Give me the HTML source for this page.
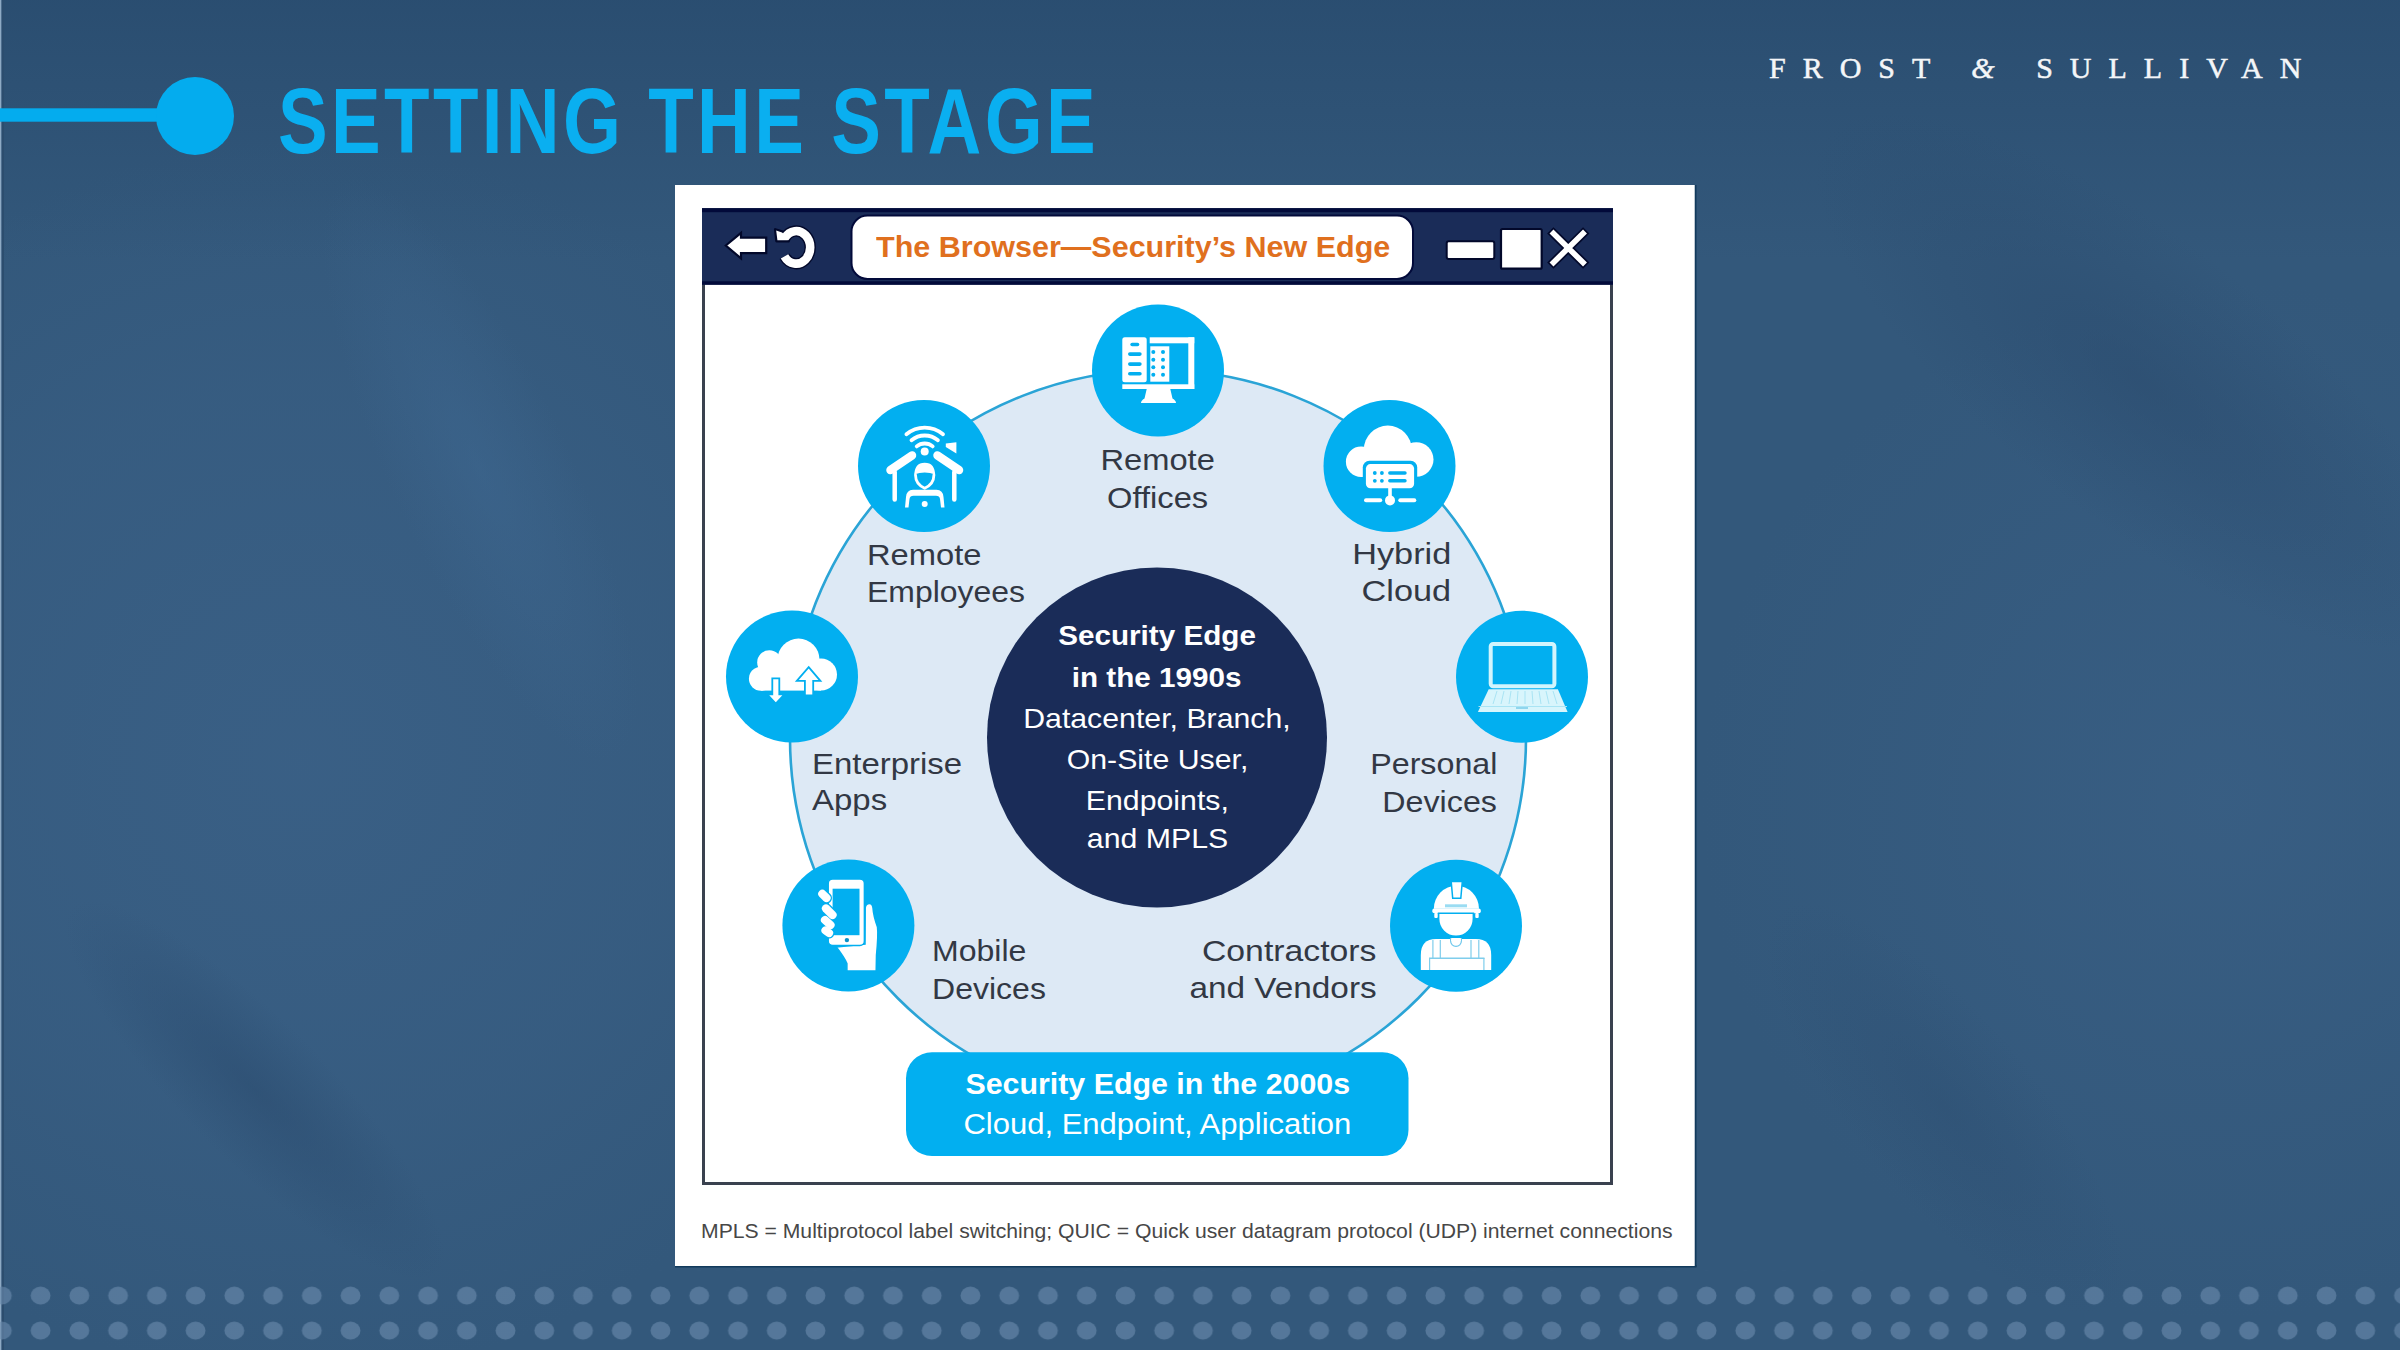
<!DOCTYPE html>
<html><head><meta charset="utf-8">
<style>
*{margin:0;padding:0;box-sizing:border-box}
html,body{width:2400px;height:1350px;overflow:hidden}
body{position:relative;background:#2f5780;font-family:"Liberation Sans",sans-serif}
.abs{position:absolute}
.t{position:absolute;white-space:nowrap;line-height:1;text-align:left}
svg{position:absolute;left:0;top:0}
</style></head><body>
<svg width="2400" height="1350" viewBox="0 0 2400 1350">
<defs>
<linearGradient id="gtop" x1="0" y1="0" x2="0" y2="1"><stop offset="0" stop-color="#284b6e" stop-opacity="0.8"/><stop offset="1" stop-color="#284b6e" stop-opacity="0"/></linearGradient>
<radialGradient id="gl" cx="300" cy="760" r="620" gradientUnits="userSpaceOnUse"><stop offset="0" stop-color="#3a6086" stop-opacity="0.9"/><stop offset="0.6" stop-color="#3a6086" stop-opacity="0.5"/><stop offset="1" stop-color="#3a6086" stop-opacity="0"/></radialGradient>
<radialGradient id="gr" cx="2220" cy="800" r="520" gradientUnits="userSpaceOnUse"><stop offset="0" stop-color="#3a6086" stop-opacity="0.7"/><stop offset="1" stop-color="#3a6086" stop-opacity="0"/></radialGradient>
<radialGradient id="glt"><stop offset="0" stop-color="#3e6891" stop-opacity="0.5"/><stop offset="1" stop-color="#3e6891" stop-opacity="0"/></radialGradient>
<radialGradient id="gdk"><stop offset="0" stop-color="#29496c" stop-opacity="0.5"/><stop offset="1" stop-color="#29496c" stop-opacity="0"/></radialGradient>
<pattern id="dots" x="-17.5" y="1278.1" width="38.744" height="35" patternUnits="userSpaceOnUse"><ellipse cx="19.372" cy="17.5" rx="9.9" ry="9" fill="#6a8bad" fill-opacity="0.62"/></pattern>
</defs>
<rect width="2400" height="1350" fill="#33587b"/>
<rect width="2400" height="1350" fill="url(#gl)"/>
<rect width="2400" height="1350" fill="url(#gr)"/>
<rect width="2400" height="260" fill="url(#gtop)"/>
<ellipse cx="2140" cy="380" rx="400" ry="140" transform="rotate(38 2140 380)" fill="url(#gdk)"/>
<ellipse cx="255" cy="1090" rx="260" ry="70" transform="rotate(45 255 1090)" fill="url(#gdk)"/>
<ellipse cx="1945" cy="1108" rx="260" ry="90" transform="rotate(50 1945 1108)" fill="url(#gdk)" fill-opacity="0.6"/>
<ellipse cx="480" cy="470" rx="320" ry="90" transform="rotate(65 480 470)" fill="url(#glt)"/>
<rect x="0" y="0" width="1.6" height="1350" fill="#8eaac4"/>
<rect x="1.6" y="0" width="2.4" height="1350" fill="#2c4d6e"/>
<rect x="0" y="1270" width="2400" height="80" fill="url(#dots)"/>

<!-- title bullet -->
<rect x="0" y="108.3" width="196" height="13.4" fill="#04acee"/>
<circle cx="195" cy="116" r="39" fill="#04acee"/>

<!-- white panel -->
<rect x="675" y="1265" width="1021.5" height="2.5" fill="#123a5c"/>
<rect x="1694.5" y="185" width="2" height="1082" fill="#123a5c"/>
<rect x="675" y="185" width="1019.7" height="1081" fill="#ffffff"/>

<!-- browser window -->
<rect x="703.5" y="280" width="908" height="903.5" fill="#ffffff" stroke="#3a414f" stroke-width="3"/>
<rect x="702" y="208.2" width="911" height="76.5" fill="#1a2c58"/>
<rect x="702" y="208.2" width="911" height="4" fill="#020a3a"/>
<rect x="702" y="281.3" width="911" height="3.4" fill="#020a3a"/>
<rect x="851.5" y="215.5" width="561.5" height="63.5" rx="16" fill="#ffffff" stroke="#020a3a" stroke-width="2"/>

<!-- back arrow -->
<path d="M725.8,245.5 L741,232.8 L741,237.6 L766.2,237.6 L766.2,253.2 L741,253.2 L741,258.4 Z" fill="#ffffff" stroke="#02082a" stroke-width="2.2" stroke-linejoin="miter"/>
<!-- refresh -->
<g>
<path d="M784.7,238.05 A14,16.3 0 1 1 784.5,256.3" fill="none" stroke="#02082a" stroke-width="11.4"/>
<polygon points="775.2,229.4 782,231.6 789.6,237.6 788.6,241.2 776.5,241.2" fill="#02082a" stroke="#02082a" stroke-width="2.6" stroke-linejoin="round"/>
<path d="M784.7,238.05 A14,16.3 0 1 1 784.5,256.3" fill="none" stroke="#ffffff" stroke-width="8.6"/>
<polygon points="776.2,230.4 782,232.4 788.6,238 787.8,240.2 777.4,240.2" fill="#ffffff"/>
</g>
<!-- window controls -->
<rect x="1446.7" y="241.3" width="47.6" height="17.7" rx="2" fill="#ffffff" stroke="#02082a" stroke-width="2"/>
<rect x="1501" y="229" width="40.7" height="39.7" rx="1.5" fill="#ffffff" stroke="#02082a" stroke-width="2.2"/>
<g stroke-linecap="square">
<path d="M1553.5,233.5 L1583,262.5 M1583,233.5 L1553.5,262.5" stroke="#02082a" stroke-width="9"/>
<path d="M1553.5,233.5 L1583,262.5 M1583,233.5 L1553.5,262.5" stroke="#ffffff" stroke-width="5.6"/>
</g>

<!-- diagram -->
<circle cx="1158" cy="738" r="368" fill="#dde9f5" stroke="#2aa4d6" stroke-width="2.6"/>
<circle cx="1157" cy="737.5" r="170" fill="#1a2c58"/>
<g fill="#02aff0">
<circle cx="1158" cy="370.5" r="66"/>
<circle cx="924" cy="466" r="66"/>
<circle cx="1389.5" cy="466" r="66"/>
<circle cx="792" cy="676.5" r="66"/>
<circle cx="1522" cy="676.7" r="66"/>
<circle cx="848.4" cy="925.5" r="66"/>
<circle cx="1456" cy="925.7" r="66"/>
</g>
<rect x="906" y="1052.2" width="502.5" height="103.8" rx="26" fill="#02aff0"/>

<!-- ICON: remote offices -->
<g fill="#ffffff">
<rect x="1122.3" y="337.3" width="24.4" height="45" rx="2.5"/>
<rect x="1149.7" y="337.3" width="44.6" height="6"/>
<rect x="1188.3" y="337.3" width="6" height="51.7"/>
<rect x="1122.3" y="384.3" width="72" height="4.7"/>
<rect x="1150.3" y="346.3" width="19" height="35.4"/>
<path d="M1146.7,389 L1170.3,389 L1172.5,398.5 Q1176,400.5 1176,403 L1141,403 Q1141,400.5 1144.5,398.5 Z"/>
</g>
<g fill="#02aff0">
<rect x="1130.3" y="342.7" width="9" height="3.6" rx="1.8"/>
<rect x="1128" y="352.2" width="13.7" height="3.7" rx="1.8"/>
<rect x="1128" y="362.2" width="13.7" height="3.7" rx="1.8"/>
<rect x="1128" y="371.9" width="13.7" height="3.7" rx="1.8"/>
<circle cx="1153.3" cy="352" r="2"/><circle cx="1163" cy="352" r="2"/>
<circle cx="1153.3" cy="359.7" r="2"/><circle cx="1163" cy="359.7" r="2"/>
<circle cx="1153.3" cy="367.3" r="2"/><circle cx="1163" cy="367.3" r="2"/>
<circle cx="1153.3" cy="374.7" r="2"/><circle cx="1163" cy="374.7" r="2"/>
</g>

<!-- ICON: remote employees -->
<g fill="none" stroke="#ffffff" stroke-linecap="round">
<path d="M906.4,434.2 A28.5,28.5 0 0 1 943,434.2" stroke-width="3.8"/>
<path d="M911.5,440.3 A20.5,20.5 0 0 1 937.9,440.3" stroke-width="3.8"/>
<path d="M916.7,446.4 A12.5,12.5 0 0 1 932.7,446.4" stroke-width="3.8"/>
<path d="M890.5,470 L912,455.5 M937.5,455.5 L959,470" stroke-width="8.5"/>
<path d="M894.7,472 L894.7,499.5 M954.3,472 L954.3,499.5" stroke-width="4.5"/>
<path d="M915.5,475 Q915.5,484 924.7,488.3 Q933.9,484 933.9,475" stroke-width="2.8"/>
</g>
<g fill="#ffffff">
<circle cx="924.7" cy="451.6" r="4"/>
<polygon points="945.8,443.6 956.4,442.2 956.4,453.6 945.8,447"/>
<path d="M914.2,476 Q914.2,462.7 924.7,462.7 Q935.2,462.7 935.2,476 L935.2,474.5 Q930,472.5 924.7,472.5 Q919.4,472.5 914.2,474.5 Z"/>
<path d="M905,507.5 L906,497 Q906.5,490 913,489.8 L936.5,489.8 Q943,490 943.5,497 L944.5,507.5 L941,507.5 L940,499 Q939.5,495.8 936,495.8 L913.5,495.8 Q910,495.8 909.5,499 L908.5,507.5 Z"/>
<circle cx="924.7" cy="504.1" r="3"/>
</g>

<!-- ICON: hybrid cloud -->
<g fill="#ffffff">
<circle cx="1387.8" cy="449.6" r="24"/>
<circle cx="1361.1" cy="461.8" r="15.2"/>
<circle cx="1416.3" cy="459.5" r="17.2"/>
<rect x="1361.1" y="455" width="55.2" height="22"/>
</g>
<rect x="1362.8" y="460.8" width="54.4" height="30.2" rx="6.5" fill="#02aff0"/>
<g fill="#ffffff">
<rect x="1365.9" y="464.1" width="48.2" height="24.1" rx="4.5"/>
<rect x="1388.2" y="488" width="3.6" height="9"/>
<circle cx="1390" cy="500.4" r="5"/>
<rect x="1364" y="498.3" width="18.2" height="4" rx="2"/>
<rect x="1398.3" y="498.3" width="18" height="4" rx="2"/>
</g>
<g fill="#02aff0">
<circle cx="1374.8" cy="473" r="1.9"/><circle cx="1381.9" cy="473" r="1.9"/>
<circle cx="1374.8" cy="480.8" r="1.9"/><circle cx="1381.9" cy="480.8" r="1.9"/>
<rect x="1388.1" y="471.3" width="18.6" height="3.4" rx="1.7"/>
<rect x="1388.1" y="479.1" width="18.6" height="3.4" rx="1.7"/>
</g>

<!-- ICON: enterprise apps -->
<g fill="#ffffff">
<circle cx="798.5" cy="659.6" r="21"/>
<circle cx="769.4" cy="662.5" r="12.2"/>
<circle cx="760.9" cy="678.8" r="12"/>
<circle cx="821" cy="674.5" r="16"/>
<rect x="760.9" y="665" width="60.1" height="25.6"/>
</g>
<g fill="#ffffff" stroke="#02aff0" stroke-width="1.8" stroke-linejoin="miter">
<path d="M772.3,678.4 L779.3,678.4 L779.3,694.3 L784.4,694.3 L775.8,703.6 L767.2,694.3 L772.3,694.3 Z"/>
<path d="M808.7,667.2 L820.4,680.8 L813.2,680.8 L813.2,695.4 L804.9,695.4 L804.9,680.8 L796.8,680.8 Z"/>
</g>

<!-- ICON: personal devices -->
<rect x="1490.7" y="643.9" width="63.7" height="42.3" rx="2.5" fill="none" stroke="#d2f5fd" stroke-width="4"/>
<path d="M1488.7,689.3 L1557.9,689.3 L1567.6,711.9 L1477.9,711.9 Z" fill="#d8f5fc"/>
<g stroke="#a9e4f4" stroke-width="1">
<path d="M1478.5,706.5 L1567,706.5"/>
<path d="M1497,691 L1493,704 M1504,691 L1501,704 M1511,691 L1509,704 M1518,691 L1517,704 M1525,691 L1525,704 M1532,691 L1533,704 M1539,691 L1541,704 M1546,691 L1549,704 M1553,691 L1557,704"/>
</g>
<rect x="1516" y="707" width="12" height="2" fill="#8fd6ee"/>

<!-- ICON: mobile devices -->
<path d="M836.3,947 Q844,957 846.9,963.5 L846.9,971 L876.2,971 L876.5,955 Q878.5,935 877.5,927 Q873.5,916 873,908 Q872.5,903.5 869.5,903.5 Q865.5,903.5 865.2,908 L865,944 Z" fill="#ffffff" stroke="#02aff0" stroke-width="1.5"/>
<rect x="828.2" y="879" width="36.2" height="66.4" rx="4.5" fill="#ffffff" stroke="#02aff0" stroke-width="1.5"/>
<rect x="832.6" y="888.7" width="26.9" height="46.5" fill="#02aff0"/>
<circle cx="846.9" cy="940.1" r="2.2" fill="#0a90c8"/>
<g stroke="#02aff0" stroke-width="11" stroke-linecap="round">
<path d="M822.3,893.8 L826.5,898"/><path d="M826,908.5 L832.5,915"/><path d="M825,920 L830.5,925"/><path d="M825.5,930.5 L829,933"/>
</g>
<g stroke="#ffffff" stroke-width="8.2" stroke-linecap="round">
<path d="M822.3,893.8 L826.5,898"/><path d="M826,908.5 L832.5,915"/><path d="M825,920 L830.5,925"/><path d="M825.5,930.5 L829,933"/>
</g>

<!-- ICON: contractors -->
<g fill="#ffffff">
<path d="M1433.8,908.8 A22.6,23 0 0 1 1479,908.8 Z"/>
<rect x="1432.3" y="908.6" width="48.5" height="4.6" rx="2"/>
<path d="M1438.6,913.2 L1473.4,913.2 L1473.4,919 A17.4,17.4 0 0 1 1438.6,919 Z" stroke="#02aff0" stroke-width="1.6"/>
<rect x="1434.3" y="913" width="3.4" height="5" rx="1"/>
<rect x="1475.3" y="913" width="3.4" height="5" rx="1"/>
<path d="M1420.8,970 L1420.8,955 Q1420.8,939 1436,939 L1476,939 Q1491.2,939 1491.2,955 L1491.2,970 Z"/>
</g>
<polygon points="1451.2,881.6 1462.3,881.6 1460.8,898.2 1452.7,898.2" fill="#ffffff" stroke="#02aff0" stroke-width="1.5"/>
<rect x="1445" y="904.3" width="22" height="3" fill="#9adcf2"/>
<path d="M1450.6,941 L1450.6,938.6 L1461.4,938.6 L1461.4,941 A5.4,5.4 0 0 1 1450.6,941 Z" fill="#ffffff" stroke="#6fc8ec" stroke-width="1.2"/>
<rect x="1451.2" y="938" width="9.6" height="3" fill="#ffffff"/>
<g fill="#7fcdec">
<rect x="1432.3" y="940" width="1.2" height="18"/>
<rect x="1439.7" y="940" width="1.2" height="18"/>
<rect x="1470.4" y="940" width="1.2" height="18"/>
<rect x="1478.2" y="940" width="1.2" height="18"/>
<rect x="1429" y="957.5" width="55.5" height="1.5"/>
<rect x="1429" y="958" width="1.2" height="12"/>
<rect x="1483.3" y="958" width="1.2" height="12"/>
</g>
</svg>

<div class="t" style="left:1769px;top:53px;font-family:'Liberation Serif',serif;font-size:30px;font-weight:400;color:#f4f6f8;letter-spacing:17px;-webkit-text-stroke:0.5px #f4f6f8">FROST <i>&amp;</i> SULLIVAN</div>
<div class="t" style="left:278.0px;top:74.8px;width:1013.6px;font-size:92px;font-weight:700;color:#0aaff0;letter-spacing:4.1px;transform-origin:0 0;transform:scaleX(0.8100)">SETTING THE STAGE</div>
<div class="t" style="left:876.0px;top:233.0px;width:488.9px;font-size:29px;font-weight:700;color:#e0701e;letter-spacing:0px;transform-origin:0 0;transform:scaleX(1.0521)">The Browser—Security’s New Edge</div>
<div class="t" style="left:1106.4px;top:444.9px;width:103.3px;font-size:29.5px;font-weight:400;color:#323844;letter-spacing:0px;transform-origin:50% 0;transform:scaleX(1.1081)">Remote</div>
<div class="t" style="left:1112.4px;top:482.9px;width:91.3px;font-size:29.5px;font-weight:400;color:#323844;letter-spacing:0px;transform-origin:50% 0;transform:scaleX(1.1081)">Offices</div>
<div class="t" style="left:867.4px;top:539.5px;width:103.3px;font-size:29.5px;font-weight:400;color:#323844;letter-spacing:0px;transform-origin:0 0;transform:scaleX(1.1081)">Remote</div>
<div class="t" style="left:867.4px;top:576.9px;width:145.9px;font-size:29.5px;font-weight:400;color:#323844;letter-spacing:0px;transform-origin:0 0;transform:scaleX(1.0821)">Employees</div>
<div class="t" style="left:1366.2px;top:538.7px;width:85.2px;font-size:29.5px;font-weight:400;color:#323844;letter-spacing:0px;transform-origin:100% 0;transform:scaleX(1.1620)">Hybrid</div>
<div class="t" style="left:1374.4px;top:575.9px;width:77.1px;font-size:29.5px;font-weight:400;color:#323844;letter-spacing:0px;transform-origin:100% 0;transform:scaleX(1.1620)">Cloud</div>
<div class="t" style="left:812.4px;top:748.7px;width:134.5px;font-size:29.5px;font-weight:400;color:#323844;letter-spacing:0px;transform-origin:0 0;transform:scaleX(1.1169)">Enterprise</div>
<div class="t" style="left:812.4px;top:785.3px;width:67.2px;font-size:29.5px;font-weight:400;color:#323844;letter-spacing:0px;transform-origin:0 0;transform:scaleX(1.1169)">Apps</div>
<div class="t" style="left:1380.6px;top:748.7px;width:116.4px;font-size:29.5px;font-weight:400;color:#323844;letter-spacing:0px;transform-origin:100% 0;transform:scaleX(1.0927)">Personal</div>
<div class="t" style="left:1392.1px;top:787.1px;width:104.9px;font-size:29.5px;font-weight:400;color:#323844;letter-spacing:0px;transform-origin:100% 0;transform:scaleX(1.0927)">Devices</div>
<div class="t" style="left:931.8px;top:936.4px;width:86.9px;font-size:29.5px;font-weight:400;color:#323844;letter-spacing:0px;transform-origin:0 0;transform:scaleX(1.0858)">Mobile</div>
<div class="t" style="left:931.8px;top:974.1px;width:104.9px;font-size:29.5px;font-weight:400;color:#323844;letter-spacing:0px;transform-origin:0 0;transform:scaleX(1.0858)">Devices</div>
<div class="t" style="left:1223.7px;top:935.9px;width:152.5px;font-size:29.5px;font-weight:400;color:#323844;letter-spacing:0px;transform-origin:100% 0;transform:scaleX(1.1445)">Contractors</div>
<div class="t" style="left:1210.5px;top:973.4px;width:165.7px;font-size:29.5px;font-weight:400;color:#323844;letter-spacing:0px;transform-origin:100% 0;transform:scaleX(1.1299)">and Vendors</div>
<div class="t" style="left:1062.0px;top:621.3px;width:190.1px;font-size:28.5px;font-weight:700;color:#ffffff;letter-spacing:0px;transform-origin:50% 0;transform:scaleX(1.0405)">Security Edge</div>
<div class="t" style="left:1075.4px;top:662.8px;width:163.2px;font-size:28.5px;font-weight:700;color:#ffffff;letter-spacing:0px;transform-origin:50% 0;transform:scaleX(1.0405)">in the 1990s</div>
<div class="t" style="left:1031.0px;top:704.3px;width:251.9px;font-size:28.5px;font-weight:400;color:#ffffff;letter-spacing:0px;transform-origin:50% 0;transform:scaleX(1.0620)">Datacenter, Branch,</div>
<div class="t" style="left:1071.5px;top:744.5px;width:171.1px;font-size:28.5px;font-weight:400;color:#ffffff;letter-spacing:0px;transform-origin:50% 0;transform:scaleX(1.0620)">On-Site User,</div>
<div class="t" style="left:1089.7px;top:785.8px;width:134.7px;font-size:28.5px;font-weight:400;color:#ffffff;letter-spacing:0px;transform-origin:50% 0;transform:scaleX(1.0620)">Endpoints,</div>
<div class="t" style="left:1090.5px;top:823.5px;width:133.1px;font-size:28.5px;font-weight:400;color:#ffffff;letter-spacing:0px;transform-origin:50% 0;transform:scaleX(1.0620)">and MPLS</div>
<div class="t" style="left:973.8px;top:1069.5px;width:367.5px;font-size:29px;font-weight:700;color:#ffffff;letter-spacing:0px;transform-origin:50% 0;transform:scaleX(1.0464)">Security Edge in the 2000s</div>
<div class="t" style="left:975.6px;top:1110.3px;width:362.8px;font-size:29px;font-weight:400;color:#ffffff;letter-spacing:0px;transform-origin:50% 0;transform:scaleX(1.0692)">Cloud, Endpoint, Application</div>
<div class="t" style="left:700.6px;top:1220.7px;width:941.1px;font-size:20.5px;font-weight:400;color:#474747;letter-spacing:0px;transform-origin:0 0;transform:scaleX(1.0323)">MPLS = Multiprotocol label switching; QUIC = Quick user datagram protocol (UDP) internet connections</div>
</body></html>
